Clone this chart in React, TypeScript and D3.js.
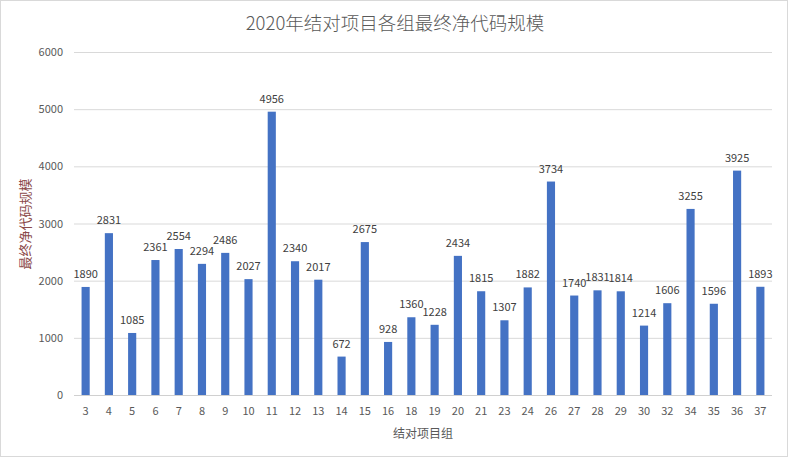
import React from "react";
import * as d3 from "d3";

const categories = ["3","4","5","6","7","8","9","10","11","12","13","14","15","16","18","19","20","21","23","24","26","27","28","29","30","32","34","35","36","37"];
const values = [1890,2831,1085,2361,2554,2294,2486,2027,4956,2340,2017,672,2675,928,1360,1228,2434,1815,1307,1882,3734,1740,1831,1814,1214,1606,3255,1596,3925,1893];
const yTicks = [0,1000,2000,3000,4000,5000,6000];
const title = "2020年结对项目各组最终净代码规模";
const xTitle = "结对项目组";
const yTitle = "最终净代码规模";

const W = 788, H = 457;
const plot = { left: 74, right: 772, top: 52, bottom: 395 };
const font = "'Noto Sans CJK SC', 'Open Sans', sans-serif";

export default function App() {
  const x = d3.scaleBand<string>().domain(categories).range([plot.left, plot.right]).paddingInner(0.65).paddingOuter(0.325);
  const y = d3.scaleLinear().domain([0, 6000]).range([plot.bottom, plot.top]);
  return (
    <div style={{ position: "fixed", left: 0, top: 0 }}>
      <svg width={W} height={H} style={{ display: "block" }}>
        <rect x={0.5} y={0.5} width={W - 1} height={H - 1} fill="#fff" stroke="#d9d9d9" />
        <text x={W / 2 + 1} y={30} textAnchor="middle" fontSize={18.5} fontWeight={300} fill="#595959" fontFamily={font}>{title}</text>
        {yTicks.map(t => (
          <g key={t}>
            <line x1={plot.left} x2={plot.right} y1={y(t) + 0.5} y2={y(t) + 0.5} stroke={t === 0 ? "#d0d0d0" : "#d9d9d9"} strokeWidth={1} />
            <text x={63} y={y(t) + 4} textAnchor="end" fontSize={11} fill="#595959" fontFamily={font}>{t}</text>
          </g>
        ))}
        {categories.map((c, i) => (
          <g key={c}>
            <rect x={x(c)!} y={y(values[i])} width={x.bandwidth()} height={y(0) - y(values[i])} fill="#4472C4" />
            <text x={x(c)! + x.bandwidth() / 2} y={y(values[i]) - 9} textAnchor="middle" fontSize={11} fill="#404040" fontFamily={font}>{values[i]}</text>
            <text x={x(c)! + x.bandwidth() / 2} y={415} textAnchor="middle" fontSize={11} fill="#595959" fontFamily={font}>{c}</text>
          </g>
        ))}
        <text x={(plot.left + plot.right) / 2} y={438} textAnchor="middle" fontSize={12} fill="#595959" fontFamily={font}>{xTitle}</text>
        <text transform={`translate(30, 224) rotate(-90)`} textAnchor="middle" fontSize={13} fill="#8B4A4A" fontFamily={font}>{yTitle}</text>
      </svg>
    </div>
  );
}
